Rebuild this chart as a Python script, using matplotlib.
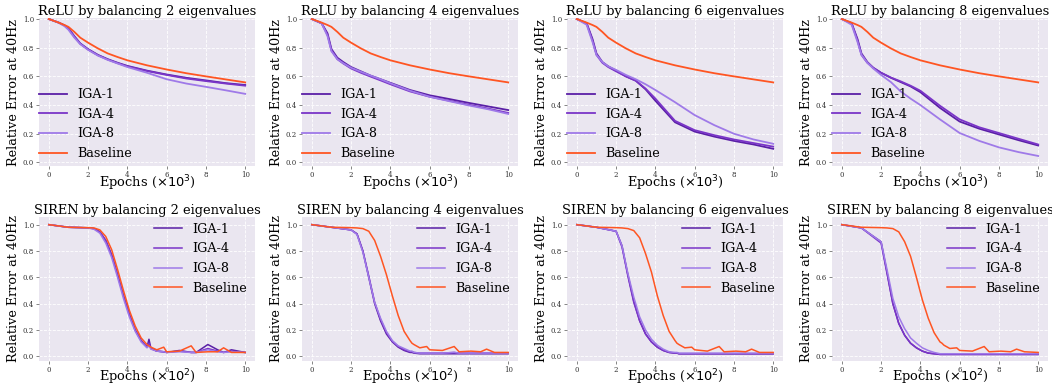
import matplotlib
matplotlib.use("Agg")
from matplotlib import pyplot as plt

plt.rcParams["font.family"] = "DejaVu Serif"

# ---------- top row : ReLU, epochs x10^3 ----------
relu_x = [0, 0.5, 0.8, 1.0, 1.3, 1.6, 2, 2.5, 3, 3.5, 4, 5, 6, 7, 8, 9, 10]
relu_base = [1.0, 0.975, 0.958, 0.945, 0.91, 0.87, 0.835, 0.795, 0.76, 0.735, 0.712, 0.677, 0.648, 0.622, 0.600, 0.579, 0.558]

relu2_iga1 = [1.0, 0.975, 0.955, 0.935, 0.88, 0.83, 0.79, 0.75, 0.72, 0.695, 0.673, 0.64, 0.613, 0.59, 0.572, 0.553, 0.540]
relu2_iga4 = [1.0, 0.975, 0.955, 0.933, 0.877, 0.827, 0.787, 0.747, 0.717, 0.692, 0.670, 0.637, 0.610, 0.585, 0.567, 0.550, 0.535]
relu2_iga8 = [1.0, 0.975, 0.950, 0.925, 0.870, 0.825, 0.785, 0.745, 0.715, 0.690, 0.665, 0.625, 0.580, 0.550, 0.527, 0.503, 0.478]

relu4_iga1 = [1.0, 0.97, 0.90, 0.79, 0.73, 0.70, 0.665, 0.635, 0.605, 0.58, 0.555, 0.505, 0.468, 0.442, 0.415, 0.39, 0.365]
relu4_iga4 = [1.0, 0.97, 0.89, 0.78, 0.72, 0.69, 0.655, 0.625, 0.598, 0.572, 0.545, 0.495, 0.458, 0.430, 0.402, 0.375, 0.345]
relu4_iga8 = [1.0, 0.97, 0.88, 0.775, 0.72, 0.692, 0.66, 0.632, 0.605, 0.58, 0.552, 0.500, 0.458, 0.427, 0.397, 0.370, 0.338]

relu6_iga1 = [1.0, 0.97, 0.86, 0.76, 0.70, 0.67, 0.64, 0.60, 0.57, 0.51, 0.43, 0.28, 0.215, 0.18, 0.15, 0.125, 0.095]
relu6_iga4 = [1.0, 0.97, 0.85, 0.75, 0.695, 0.665, 0.635, 0.60, 0.57, 0.515, 0.445, 0.29, 0.225, 0.19, 0.16, 0.135, 0.11]
relu6_iga8 = [1.0, 0.96, 0.84, 0.75, 0.70, 0.67, 0.645, 0.61, 0.58, 0.545, 0.505, 0.42, 0.33, 0.26, 0.20, 0.16, 0.13]

relu8_iga1 = [1.0, 0.97, 0.86, 0.76, 0.70, 0.66, 0.625, 0.59, 0.56, 0.53, 0.49, 0.38, 0.285, 0.235, 0.195, 0.155, 0.118]
relu8_iga4 = [1.0, 0.97, 0.85, 0.75, 0.695, 0.66, 0.625, 0.592, 0.565, 0.535, 0.50, 0.395, 0.30, 0.245, 0.205, 0.165, 0.125]
relu8_iga8 = [1.0, 0.96, 0.84, 0.75, 0.695, 0.655, 0.61, 0.56, 0.495, 0.445, 0.40, 0.30, 0.205, 0.15, 0.105, 0.072, 0.045]

# ---------- bottom row : SIREN, epochs x10^2 ----------
sir_x = [0, 1, 2, 2.3, 2.6, 2.9, 3.2, 3.5, 3.8, 4.1, 4.4, 4.7, 5.0, 5.1, 5.2, 5.5, 5.85, 6.0, 6.65, 7.25, 7.5, 8.1, 8.6, 8.9, 9.3, 10]

sir2_base = [1.0, 0.98, 0.977, 0.975, 0.96, 0.91, 0.81, 0.66, 0.50, 0.35, 0.23, 0.14, 0.09, 0.08, 0.07, 0.05, 0.07, 0.035, 0.04, 0.08, 0.03, 0.035, 0.035, 0.065, 0.03, 0.03]
sir2_iga1 = [1.0, 0.98, 0.976, 0.97, 0.945, 0.88, 0.77, 0.62, 0.46, 0.32, 0.20, 0.12, 0.07, 0.13, 0.06, 0.04, 0.035, 0.03, 0.045, 0.03, 0.03, 0.09, 0.05, 0.03, 0.05, 0.03]
sir2_iga4 = [1.0, 0.98, 0.976, 0.97, 0.945, 0.88, 0.77, 0.62, 0.46, 0.32, 0.20, 0.12, 0.07, 0.10, 0.06, 0.04, 0.035, 0.03, 0.04, 0.03, 0.03, 0.06, 0.04, 0.03, 0.04, 0.03]
sir2_iga8 = [1.0, 0.98, 0.975, 0.965, 0.935, 0.86, 0.75, 0.60, 0.44, 0.30, 0.19, 0.11, 0.065, 0.08, 0.055, 0.04, 0.035, 0.03, 0.035, 0.03, 0.03, 0.05, 0.035, 0.03, 0.035, 0.03]

sir4_base = [1.0, 0.98, 0.977, 0.975, 0.97, 0.95, 0.88, 0.76, 0.62, 0.46, 0.31, 0.19, 0.12, 0.10, 0.09, 0.065, 0.075, 0.05, 0.045, 0.075, 0.035, 0.04, 0.035, 0.055, 0.03, 0.03]
sir4_iga1 = [1.0, 0.98, 0.96, 0.93, 0.80, 0.60, 0.40, 0.27, 0.17, 0.11, 0.07, 0.045, 0.03, 0.03, 0.025, 0.02, 0.02, 0.02, 0.02, 0.02, 0.02, 0.02, 0.02, 0.02, 0.02, 0.02]
sir4_iga4 = [1.0, 0.98, 0.96, 0.93, 0.80, 0.61, 0.41, 0.28, 0.18, 0.115, 0.075, 0.05, 0.035, 0.035, 0.03, 0.025, 0.025, 0.025, 0.025, 0.03, 0.025, 0.025, 0.025, 0.025, 0.025, 0.025]
sir4_iga8 = [1.0, 0.98, 0.96, 0.925, 0.79, 0.60, 0.41, 0.29, 0.19, 0.12, 0.08, 0.06, 0.04, 0.04, 0.03, 0.025, 0.025, 0.025, 0.025, 0.03, 0.025, 0.025, 0.025, 0.025, 0.025, 0.025]

sir6_base = [1.0, 0.98, 0.977, 0.975, 0.97, 0.955, 0.90, 0.78, 0.64, 0.46, 0.31, 0.19, 0.12, 0.10, 0.09, 0.065, 0.07, 0.05, 0.04, 0.075, 0.035, 0.04, 0.035, 0.055, 0.03, 0.03]
sir6_iga1 = [1.0, 0.98, 0.95, 0.84, 0.62, 0.42, 0.27, 0.17, 0.11, 0.07, 0.045, 0.03, 0.025, 0.025, 0.02, 0.02, 0.02, 0.02, 0.02, 0.02, 0.02, 0.02, 0.02, 0.02, 0.02, 0.02]
sir6_iga4 = [1.0, 0.98, 0.95, 0.83, 0.61, 0.41, 0.27, 0.17, 0.11, 0.07, 0.045, 0.03, 0.025, 0.025, 0.02, 0.02, 0.02, 0.02, 0.02, 0.02, 0.02, 0.02, 0.02, 0.02, 0.02, 0.02]
sir6_iga8 = [1.0, 0.98, 0.95, 0.84, 0.63, 0.45, 0.30, 0.20, 0.13, 0.085, 0.055, 0.035, 0.03, 0.03, 0.025, 0.025, 0.025, 0.025, 0.025, 0.025, 0.025, 0.025, 0.025, 0.025, 0.025, 0.025]

sir8_base = [1.0, 0.98, 0.977, 0.975, 0.97, 0.945, 0.87, 0.76, 0.60, 0.43, 0.29, 0.18, 0.11, 0.10, 0.085, 0.06, 0.065, 0.045, 0.04, 0.075, 0.035, 0.04, 0.035, 0.055, 0.035, 0.03]
sir8_iga1 = [1.0, 0.975, 0.87, 0.64, 0.40, 0.25, 0.16, 0.10, 0.065, 0.04, 0.025, 0.02, 0.015, 0.015, 0.015, 0.015, 0.015, 0.015, 0.015, 0.015, 0.015, 0.015, 0.015, 0.015, 0.015, 0.015]
sir8_iga4 = [1.0, 0.975, 0.86, 0.63, 0.40, 0.25, 0.16, 0.10, 0.065, 0.04, 0.025, 0.02, 0.015, 0.015, 0.015, 0.015, 0.015, 0.015, 0.015, 0.015, 0.015, 0.015, 0.015, 0.015, 0.015, 0.015]
sir8_iga8 = [1.0, 0.975, 0.87, 0.66, 0.44, 0.30, 0.21, 0.14, 0.10, 0.065, 0.045, 0.03, 0.02, 0.02, 0.02, 0.02, 0.02, 0.02, 0.02, 0.02, 0.02, 0.02, 0.02, 0.02, 0.02, 0.02]

n_eig = [2, 4, 6, 8]
relu_series = [
    (relu2_iga1, relu2_iga4, relu2_iga8),
    (relu4_iga1, relu4_iga4, relu4_iga8),
    (relu6_iga1, relu6_iga4, relu6_iga8),
    (relu8_iga1, relu8_iga4, relu8_iga8),
]
siren_series = [
    (sir2_iga1, sir2_iga4, sir2_iga8, sir2_base),
    (sir4_iga1, sir4_iga4, sir4_iga8, sir4_base),
    (sir6_iga1, sir6_iga4, sir6_iga8, sir6_base),
    (sir8_iga1, sir8_iga4, sir8_iga8, sir8_base),
]
labels = ["IGA-1", "IGA-4", "IGA-8", "Baseline"]
colors = ["#5a1fa6", "#7a35c8", "#9f7ae8", "#ff5522"]

W, H = 1052, 385
fig = plt.figure(figsize=(W / 100, H / 100), dpi=100)
lefts = [39, 302, 567, 832]


def style(ax, ylim):
    ax.set_facecolor("#eae6f0")
    for s in ax.spines.values():
        s.set_visible(False)
    ax.grid(True, color="white", linestyle="--", linewidth=0.6)
    ax.set_axisbelow(True)
    ax.set_xlim(-0.5, 10.5)
    ax.set_ylim(*ylim)
    ax.set_xticks([0, 2, 4, 6, 8, 10])
    ax.set_yticks([0.0, 0.2, 0.4, 0.6, 0.8, 1.0])
    ax.tick_params(labelsize=5, length=2, width=0.5, color="#555555", labelcolor="#333333", pad=1.5)
    ax.set_ylabel("Relative Error at 40Hz", fontsize=9.2, labelpad=2)


for i, L in enumerate(lefts):
    # top row
    ax = fig.add_axes([L / W, (H - 166) / H, 216 / W, 148 / H])
    style(ax, (-0.025, 1.007))
    for ys, c, lab in zip(relu_series[i], colors[:3], labels[:3]):
        ax.plot(relu_x, ys, color=c, lw=1.3, label=lab)
    ax.plot(relu_x, relu_base, color=colors[3], lw=1.3, label=labels[3])
    ax.set_title(f"ReLU by balancing {n_eig[i]} eigenvalues", fontsize=9.4, pad=2)
    ax.set_xlabel(r"Epochs ($\times 10^3$)", fontsize=9.4, labelpad=-4)
    ax.legend(loc="lower left", bbox_to_anchor=(0, 0.04), frameon=False, fontsize=9.2,
              handlelength=2.2, labelspacing=0.52, borderaxespad=0, borderpad=0,
              handletextpad=0.8)

    # bottom row
    ax = fig.add_axes([L / W, (H - 361) / H, 216 / W, 144 / H])
    style(ax, (-0.035, 1.058))
    for ys, c, lab in zip(siren_series[i], colors, labels):
        ax.plot(sir_x, ys, color=c, lw=1.1, label=lab)
    ax.set_title(f"SIREN by balancing {n_eig[i]} eigenvalues", fontsize=9.4, pad=2)
    ax.set_xlabel(r"Epochs ($\times 10^2$)", fontsize=9.4, labelpad=-5)
    ax.legend(loc="upper right", bbox_to_anchor=(0.965, 0.96), frameon=False, fontsize=9.2,
              handlelength=2.2, labelspacing=0.52, borderaxespad=0, borderpad=0,
              handletextpad=0.8)

fig.savefig("out.png", dpi=100)
